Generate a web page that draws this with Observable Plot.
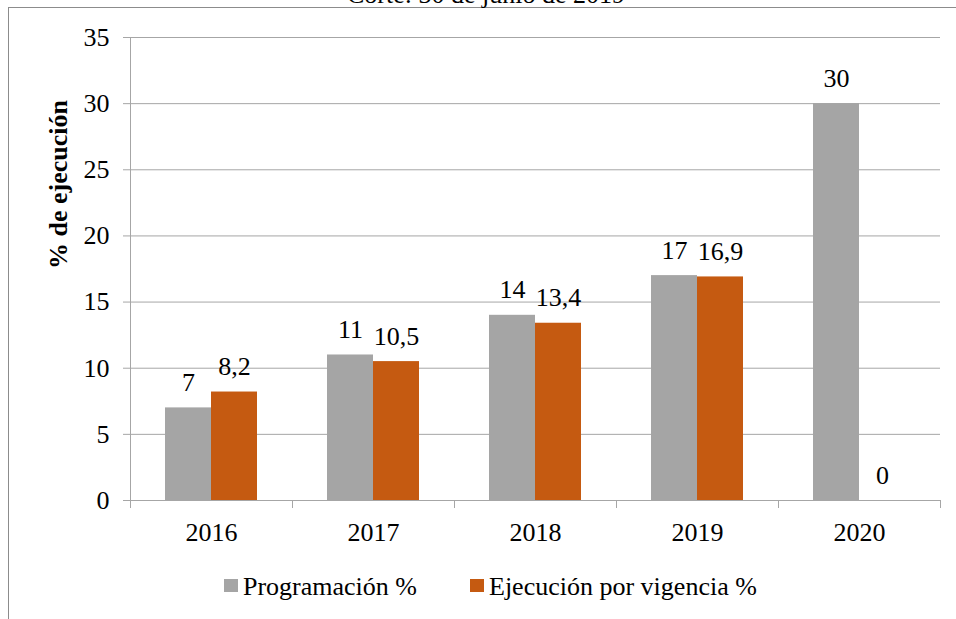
<!DOCTYPE html>
<html>
<head>
<meta charset="utf-8">
<script src="https://cdn.jsdelivr.net/npm/d3@7"></script>
<script src="https://cdn.jsdelivr.net/npm/@observablehq/plot@0.6"></script>
<style>
  html, body { margin: 0; padding: 0; background: #fff; overflow: hidden; }
  #wrap { position: relative; width: 956px; height: 619px; overflow: hidden; font-family: "Liberation Serif", "Times New Roman", serif; color: #000; }
  #frame { position: absolute; left: 8px; top: 7px; width: 2000px; height: 2000px; border-left: 1px solid #8c8c8c; border-top: 1px solid #8c8c8c; }
  #title { position: absolute; top: -18px; left: 486px; transform: translateX(-50%); white-space: nowrap; font-size: 26px; line-height: 26px; }
  #chart { position: absolute; left: 0; top: 0; }
  #legend { position: absolute; left: 224px; top: 574px; white-space: nowrap; font-size: 26px; line-height: 26px; }
  #legend .sw { display: inline-block; width: 14px; height: 13px; vertical-align: 3px; margin-right: 5px; }
  #legend .item2 { margin-left: 53px; }
</style>
</head>
<body>
<div id="wrap">
  <div id="frame"></div>
  <div id="title"></div>
  <div id="chart"></div>
  <div id="legend"></div>
</div>
<script>
const title = "Corte: 30 de junio de 2019";
const years = ["2016", "2017", "2018", "2019", "2020"];
const programacion = [7, 11, 14, 17, 30];
const ejecucion = [8.2, 10.5, 13.4, 16.9, 0];
const seriesNames = ["Programación %", "Ejecución por vigencia %"];
const seriesColors = ["#a5a5a5", "#c55a11"];
const yTicks = [0, 5, 10, 15, 20, 25, 30, 35];
const yLabel = ["% de ejecución"];

const rows = years.map((y, i) => ({year: y, prog: programacion[i], ejec: ejecucion[i]}));
const fmt = v => String(v).replace(".", ",");
const gridColor = "#a6a6a6";

const chart = Plot.plot({
  width: 956,
  height: 560,
  marginLeft: 130,
  marginRight: 16,
  marginTop: 37,
  marginBottom: 60,
  style: {fontFamily: "'Liberation Serif', 'Times New Roman', serif", fontSize: "26px", background: "transparent", color: "#000", overflow: "visible"},
  x: {domain: years, padding: 0, axis: null},
  y: {domain: [0, 35], axis: null},
  marks: [
    Plot.gridY(yTicks, {stroke: gridColor, strokeOpacity: 1}),
    Plot.frame({anchor: "left", stroke: gridColor}),
    Plot.axisY(yTicks, {tickSize: 7, tickPadding: 14, stroke: gridColor, strokeOpacity: 1, label: null}),
    Plot.axisX(years, {tickSize: 8, fill: "none", dx: -81, stroke: gridColor, strokeOpacity: 1, label: null}),
    Plot.axisX([years[years.length - 1]], {tickSize: 8, fill: "none", dx: 81, stroke: gridColor, strokeOpacity: 1, label: null}),
    Plot.axisX(years, {tickSize: 0, tickPadding: 22, label: null}),
    Plot.barY(rows, {x: "year", y: "prog", fill: seriesColors[0], insetLeft: 35, insetRight: 81}),
    Plot.barY(rows, {x: "year", y: "ejec", fill: seriesColors[1], insetLeft: 81, insetRight: 35}),
    Plot.text(rows, {x: "year", y: "prog", text: d => fmt(d.prog), dx: -23, dy: -17, lineAnchor: "bottom"}),
    Plot.text(rows, {x: "year", y: "ejec", text: d => fmt(d.ejec), dx: 23, dy: -17, lineAnchor: "bottom"}),
    Plot.text(yLabel, {frameAnchor: "left", dx: -72, rotate: -90, fontWeight: "bold"})
  ]
});
document.getElementById("chart").appendChild(chart);
document.getElementById("title").textContent = title;

const legend = document.getElementById("legend");
seriesNames.forEach((name, i) => {
  const item = document.createElement("span");
  if (i > 0) item.className = "item2";
  const sw = document.createElement("span");
  sw.className = "sw";
  sw.style.background = seriesColors[i];
  item.appendChild(sw);
  item.appendChild(document.createTextNode(name));
  legend.appendChild(item);
});
</script>
</body>
</html>
